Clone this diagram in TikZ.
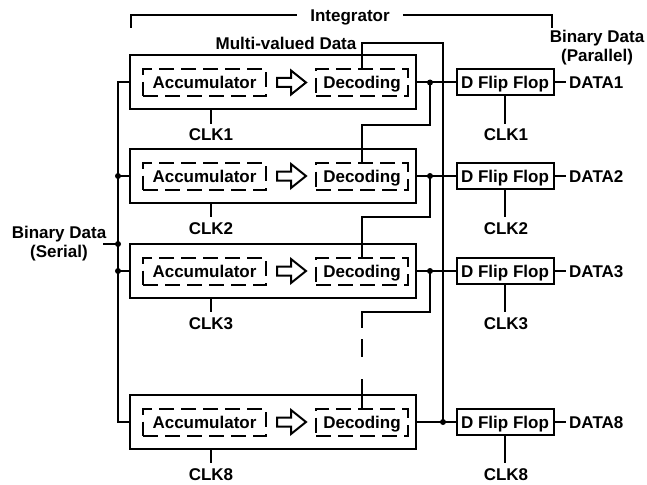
\documentclass[tikz,border=0pt]{standalone}
\usepackage{fontspec}
\setmainfont{Liberation Sans}
\begin{document}
\begin{tikzpicture}[x=1pt,y=-1pt,
  every node/.style={font=\fontsize{17}{19}\selectfont\bfseries},
  lbl/.style={text height=12.2pt,text depth=0pt,inner sep=2pt},
  outer/.style={draw,line width=2pt,minimum width=286pt,minimum height=54pt,inner sep=0pt},
  inbox/.style={lbl,draw,line width=2pt,dash pattern=on 15pt off 7pt,minimum height=27pt,inner sep=0pt},
  dffbox/.style={lbl,draw,line width=2pt,minimum width=97pt,minimum height=26pt,inner sep=0pt},
  wire/.style={line width=2pt},
  brk/.style={line width=1.5pt},
  dot/.style={circle,fill=black,inner sep=0pt,minimum size=6pt}
]
\useasboundingbox (0,0) rectangle (647,484);

% Integrator bracket
\node[lbl,inner xsep=13pt] (int) at (350,15) {Integrator};
\draw[brk] (131,28) -- (131,15) -- (int.west);
\draw[brk] (int.east) -- (552,15) -- (552,28);

\node[lbl] (mvd) at (286,43) {Multi-valued Data};
\node[align=center,inner sep=0pt] (bdp) at (597,48) {Binary Data\\(Parallel)};
\node[align=center,inner sep=0pt] (bds) at (59,243.5) {Binary Data\\(Serial)};

\foreach \i/\y in {1/82.5,2/176,3/271,8/422}{
  \node[outer] (box\i) at (273,\y) {};
  \node[inbox,minimum width=123pt] (acc\i) at (204.5,\y) {Accumulator};
  \node[inbox,minimum width=92pt] (dec\i) at (362,\y) {Decoding};
  \draw[wire,line join=miter] (277,\y-4.5) -- (291,\y-4.5) -- (291,\y-12) -- (306,\y) -- (291,\y+12) -- (291,\y+4.5) -- (277,\y+4.5) -- cycle;
  \node[dffbox] (dff\i) at (505,\y) {D Flip Flop};
  \node[lbl,anchor=west,inner xsep=3pt] (dat\i) at (566,\y) {DATA\i};
  \node[lbl] (cka\i) at (211,\y+52) {CLK\i};
  \node[lbl] (ckb\i) at (506,\y+52) {CLK\i};
  \draw[wire] (box\i.south -| cka\i) -- ++(0,13);
  \draw[wire] (dff\i.south) -- ++(0,27);
  \draw[wire] (box\i.east) -- (dff\i.west);
  \draw[wire] (dff\i.east) -- (dat\i.west);
  \coordinate (L\i) at (118,\y);
}

% junctions on outputs
\coordinate (j1) at (430,82.5);
\coordinate (j2) at (430,176);
\coordinate (j3) at (430,271);
\coordinate (j8) at (443,422);
\coordinate (top) at (443,43);

% feedback chain between decoders
\draw[wire] (j1) -- ++(0,42) -| (dec2.north);
\draw[wire] (j2) -- ++(0,41) -| (dec3.north);
\draw[wire,dash pattern=on 125pt off 11pt on 18pt off 22pt on 200pt] (j3) -- ++(0,41) -| (dec8.north);
\draw[wire] (j8) -- (top) -| (dec1.north);

\foreach \j in {j1,j2,j3,j8} \node[dot] at (\j) {};

% serial input bus
\coordinate (in) at (118,244);
\coordinate (inS) at (103,244);
\draw[wire] (box1.west) -- (L1) -- (L8) -- (box8.west);
\draw[wire] (L2) -- (box2.west);
\draw[wire] (L3) -- (box3.west);
\draw[wire] (inS) -- (in);
\foreach \j in {L2,L3,in} \node[dot] at (\j) {};
\end{tikzpicture}
\end{document}
